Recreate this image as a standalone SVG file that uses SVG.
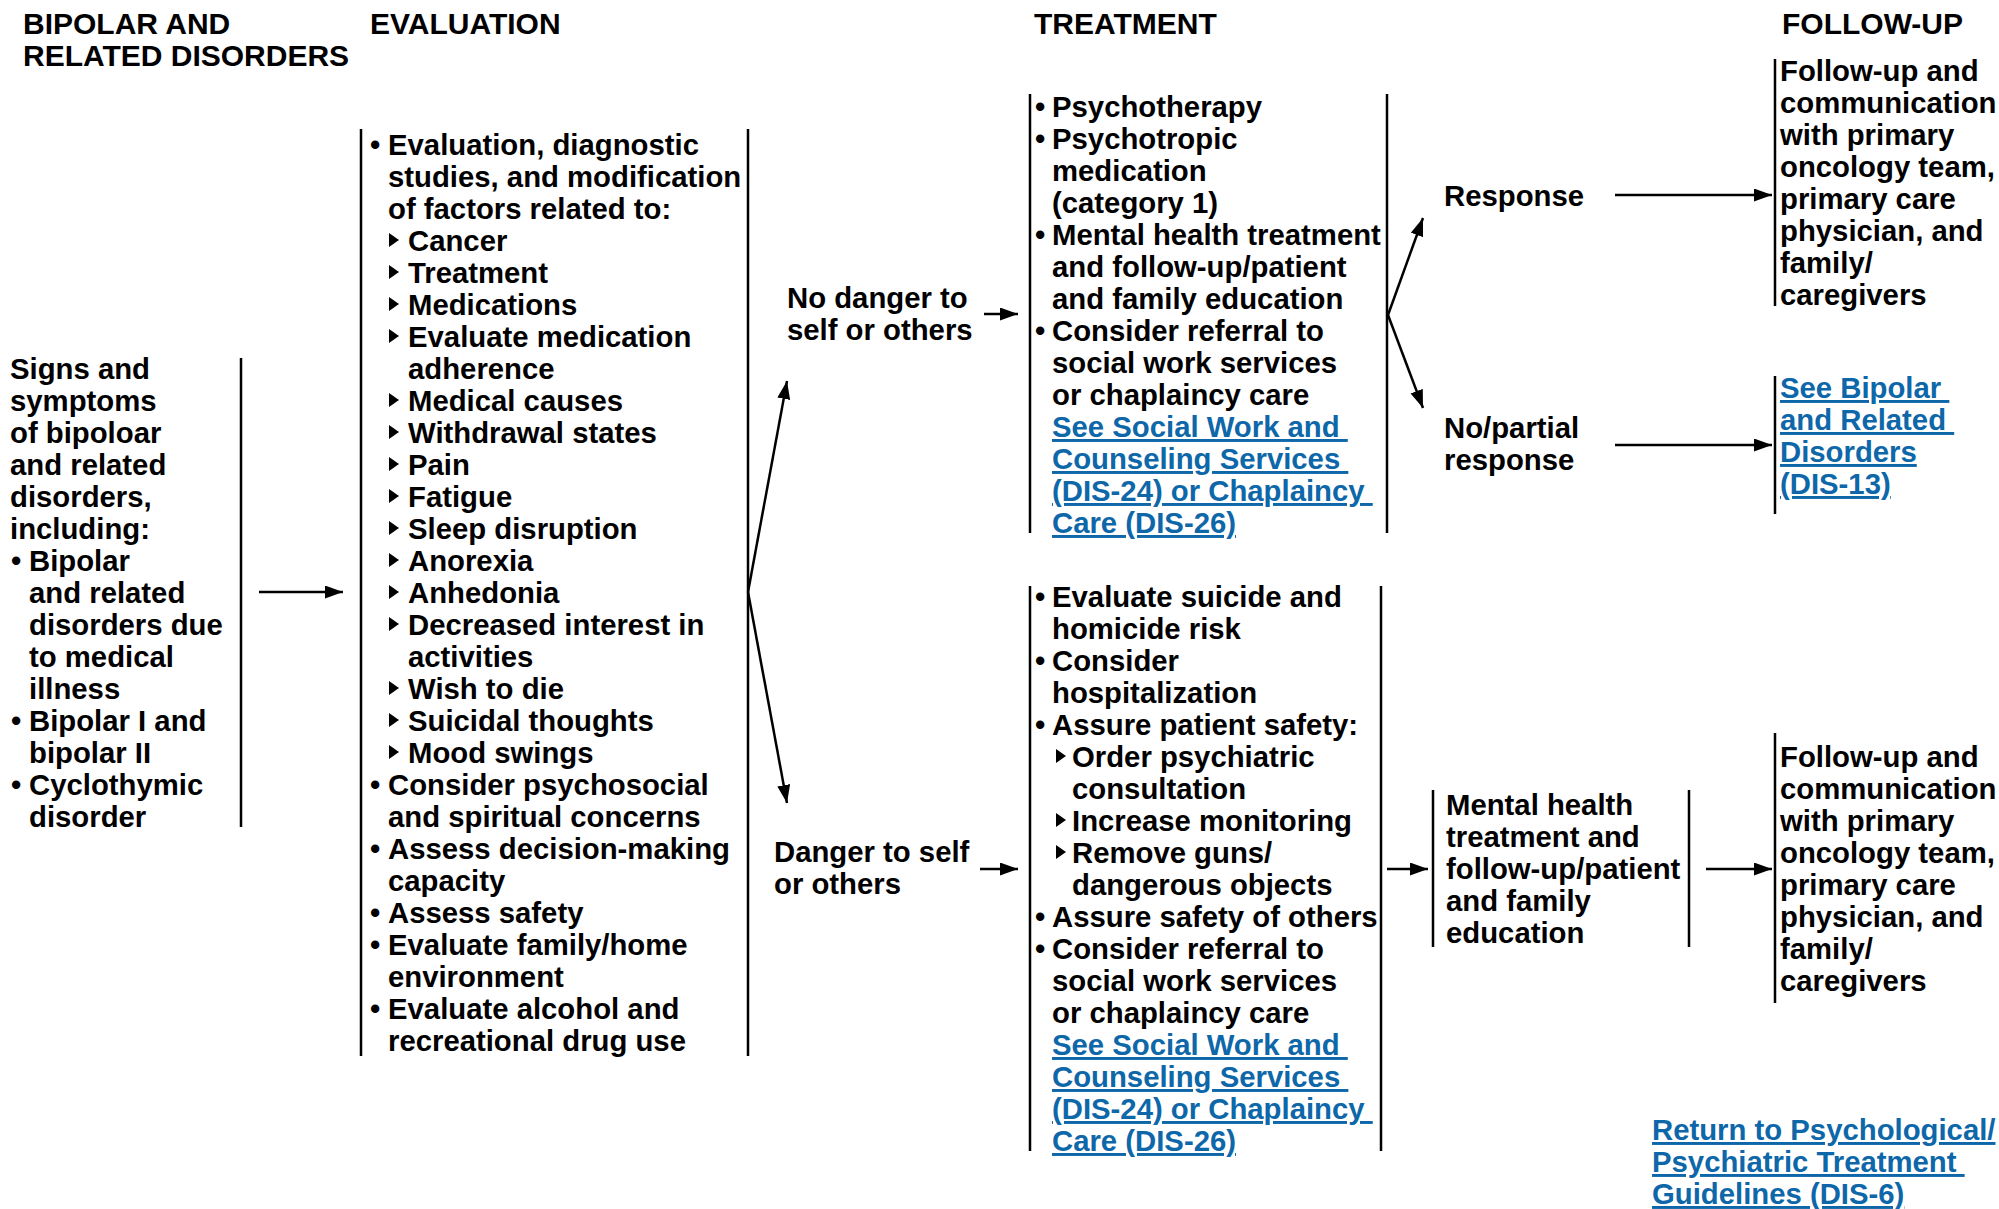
<svg xmlns="http://www.w3.org/2000/svg" width="1999" height="1209" viewBox="0 0 1999 1209">
<style>
text{font-family:"Liberation Sans",Arial,Helvetica,sans-serif;font-weight:bold;font-size:29.3px;fill:#000}
.h{font-size:30px}
.lk{fill:#0e67a8;text-decoration:underline}
.bar{stroke:#000;stroke-width:2.5;fill:none}
.con{stroke:#000;stroke-width:2.5;fill:none;marker-end:url(#ah)}
</style>
<defs>
<marker id="ah" markerUnits="userSpaceOnUse" markerWidth="19" markerHeight="14" refX="18" refY="6.5" orient="auto">
<path d="M0,0 L18,6.5 L0,13 z" fill="#000"/>
</marker>
<path id="tb" d="M0,0 L10,7 L0,14 z" fill="#000"/>
</defs>
<rect width="1999" height="1209" fill="#fff"/>

<g id="headings">
<text class="h" x="23" y="34">BIPOLAR AND</text>
<text class="h" x="23" y="66">RELATED DISORDERS</text>
<text class="h" x="370" y="34">EVALUATION</text>
<text class="h" x="1034" y="34">TREATMENT</text>
<text class="h" x="1782" y="34">FOLLOW-UP</text>
</g>

<g id="signs">
<line class="bar" x1="241" y1="358" x2="241" y2="827"/>
<text x="10" y="379">Signs and</text>
<text x="10" y="411">symptoms</text>
<text x="10" y="443">of bipoloar</text>
<text x="10" y="475">and related</text>
<text x="10" y="507">disorders,</text>
<text x="10" y="539">including:</text>
<text x="11" y="571">•</text><text x="29" y="571">Bipolar</text>
<text x="29" y="603">and related</text>
<text x="29" y="635">disorders due</text>
<text x="29" y="667">to medical</text>
<text x="29" y="699">illness</text>
<text x="11" y="731">•</text><text x="29" y="731">Bipolar I and</text>
<text x="29" y="763">bipolar II</text>
<text x="11" y="795">•</text><text x="29" y="795">Cyclothymic</text>
<text x="29" y="827">disorder</text>
</g>

<g id="evaluation">
<line class="bar" x1="361" y1="129" x2="361" y2="1056"/>
<line class="bar" x1="748" y1="129" x2="748" y2="1056"/>
<text x="370" y="155">•</text><text x="388" y="155">Evaluation, diagnostic</text>
<text x="388" y="187">studies, and modification</text>
<text x="388" y="219">of factors related to:</text>
<use href="#tb" x="389" y="233"/><text x="408" y="251">Cancer</text>
<use href="#tb" x="389" y="265"/><text x="408" y="283">Treatment</text>
<use href="#tb" x="389" y="297"/><text x="408" y="315">Medications</text>
<use href="#tb" x="389" y="329"/><text x="408" y="347">Evaluate medication</text>
<text x="408" y="379">adherence</text>
<use href="#tb" x="389" y="393"/><text x="408" y="411">Medical causes</text>
<use href="#tb" x="389" y="425"/><text x="408" y="443">Withdrawal states</text>
<use href="#tb" x="389" y="457"/><text x="408" y="475">Pain</text>
<use href="#tb" x="389" y="489"/><text x="408" y="507">Fatigue</text>
<use href="#tb" x="389" y="521"/><text x="408" y="539">Sleep disruption</text>
<use href="#tb" x="389" y="553"/><text x="408" y="571">Anorexia</text>
<use href="#tb" x="389" y="585"/><text x="408" y="603">Anhedonia</text>
<use href="#tb" x="389" y="617"/><text x="408" y="635">Decreased interest in</text>
<text x="408" y="667">activities</text>
<use href="#tb" x="389" y="681"/><text x="408" y="699">Wish to die</text>
<use href="#tb" x="389" y="713"/><text x="408" y="731">Suicidal thoughts</text>
<use href="#tb" x="389" y="745"/><text x="408" y="763">Mood swings</text>
<text x="370" y="795">•</text><text x="388" y="795">Consider psychosocial</text>
<text x="388" y="827">and spiritual concerns</text>
<text x="370" y="859">•</text><text x="388" y="859">Assess decision-making</text>
<text x="388" y="891">capacity</text>
<text x="370" y="923">•</text><text x="388" y="923">Assess safety</text>
<text x="370" y="955">•</text><text x="388" y="955">Evaluate family/home</text>
<text x="388" y="987">environment</text>
<text x="370" y="1019">•</text><text x="388" y="1019">Evaluate alcohol and</text>
<text x="388" y="1051">recreational drug use</text>
</g>

<g id="no-danger">
<text x="787" y="308">No danger to</text>
<text x="787" y="340">self or others</text>
</g>

<g id="danger">
<text x="774" y="862">Danger to self</text>
<text x="774" y="894">or others</text>
</g>

<g id="treatment-no-danger">
<line class="bar" x1="1030" y1="94" x2="1030" y2="533"/>
<line class="bar" x1="1387" y1="94" x2="1387" y2="533"/>
<text x="1035" y="117">•</text><text x="1052" y="117">Psychotherapy</text>
<text x="1035" y="149">•</text><text x="1052" y="149">Psychotropic</text>
<text x="1052" y="181">medication</text>
<text x="1052" y="213">(category 1)</text>
<text x="1035" y="245">•</text><text x="1052" y="245">Mental health treatment</text>
<text x="1052" y="277">and follow-up/patient</text>
<text x="1052" y="309">and family education</text>
<text x="1035" y="341">•</text><text x="1052" y="341">Consider referral to</text>
<text x="1052" y="373">social work services</text>
<text x="1052" y="405">or chaplaincy care</text>
<text class="lk" x="1052" y="437">See Social Work and&#160;</text>
<text class="lk" x="1052" y="469">Counseling Services&#160;</text>
<text class="lk" x="1052" y="501">(DIS-24) or Chaplaincy&#160;</text>
<text class="lk" x="1052" y="533">Care (DIS-26)</text>
</g>

<g id="treatment-danger">
<line class="bar" x1="1030" y1="586" x2="1030" y2="1151"/>
<line class="bar" x1="1381" y1="586" x2="1381" y2="1151"/>
<text x="1035" y="607">•</text><text x="1052" y="607">Evaluate suicide and</text>
<text x="1052" y="639">homicide risk</text>
<text x="1035" y="671">•</text><text x="1052" y="671">Consider</text>
<text x="1052" y="703">hospitalization</text>
<text x="1035" y="735">•</text><text x="1052" y="735">Assure patient safety:</text>
<use href="#tb" x="1056" y="749"/><text x="1072" y="767">Order psychiatric</text>
<text x="1072" y="799">consultation</text>
<use href="#tb" x="1056" y="813"/><text x="1072" y="831">Increase monitoring</text>
<use href="#tb" x="1056" y="845"/><text x="1072" y="863">Remove guns/</text>
<text x="1072" y="895">dangerous objects</text>
<text x="1035" y="927">•</text><text x="1052" y="927">Assure safety of others</text>
<text x="1035" y="959">•</text><text x="1052" y="959">Consider referral to</text>
<text x="1052" y="991">social work services</text>
<text x="1052" y="1023">or chaplaincy care</text>
<text class="lk" x="1052" y="1055">See Social Work and&#160;</text>
<text class="lk" x="1052" y="1087">Counseling Services&#160;</text>
<text class="lk" x="1052" y="1119">(DIS-24) or Chaplaincy&#160;</text>
<text class="lk" x="1052" y="1151">Care (DIS-26)</text>
</g>

<g id="response">
<text x="1444" y="206">Response</text>
</g>

<g id="no-response">
<text x="1444" y="438">No/partial</text>
<text x="1444" y="470">response</text>
</g>

<g id="followup-1">
<line class="bar" x1="1775" y1="59" x2="1775" y2="306"/>
<text x="1780" y="81">Follow-up and</text>
<text x="1780" y="113">communication</text>
<text x="1780" y="145">with primary</text>
<text x="1780" y="177">oncology team,</text>
<text x="1780" y="209">primary care</text>
<text x="1780" y="241">physician, and</text>
<text x="1780" y="273">family/</text>
<text x="1780" y="305">caregivers</text>
</g>

<g id="see-bipolar">
<line class="bar" x1="1775" y1="376" x2="1775" y2="514"/>
<text class="lk" x="1780" y="398">See Bipolar&#160;</text>
<text class="lk" x="1780" y="430">and Related&#160;</text>
<text class="lk" x="1780" y="462">Disorders</text>
<text class="lk" x="1780" y="494">(DIS-13)</text>
</g>

<g id="mental-health">
<line class="bar" x1="1433" y1="790" x2="1433" y2="947"/>
<line class="bar" x1="1689" y1="790" x2="1689" y2="947"/>
<text x="1446" y="815">Mental health</text>
<text x="1446" y="847">treatment and</text>
<text x="1446" y="879">follow-up/patient</text>
<text x="1446" y="911">and family</text>
<text x="1446" y="943">education</text>
</g>

<g id="followup-2">
<line class="bar" x1="1775" y1="733" x2="1775" y2="1003"/>
<text x="1780" y="767">Follow-up and</text>
<text x="1780" y="799">communication</text>
<text x="1780" y="831">with primary</text>
<text x="1780" y="863">oncology team,</text>
<text x="1780" y="895">primary care</text>
<text x="1780" y="927">physician, and</text>
<text x="1780" y="959">family/</text>
<text x="1780" y="991">caregivers</text>
</g>

<g id="return-link">
<text class="lk" x="1652" y="1140">Return to Psychological/</text>
<text class="lk" x="1652" y="1172">Psychiatric Treatment&#160;</text>
<text class="lk" x="1652" y="1204">Guidelines (DIS-6)</text>
</g>

<g id="connectors">
<line class="con" x1="259" y1="592" x2="343" y2="592"/>
<line class="con" x1="748" y1="592" x2="787" y2="381"/>
<line class="con" x1="748" y1="592" x2="787" y2="803"/>
<line class="con" x1="984" y1="314" x2="1018" y2="314"/>
<line class="con" x1="980" y1="869" x2="1018" y2="869"/>
<line class="con" x1="1388" y1="315" x2="1423" y2="218"/>
<line class="con" x1="1388" y1="315" x2="1423" y2="408"/>
<line class="con" x1="1615" y1="195" x2="1772" y2="195"/>
<line class="con" x1="1615" y1="445" x2="1772" y2="445"/>
<line class="con" x1="1387" y1="869" x2="1428" y2="869"/>
<line class="con" x1="1706" y1="869" x2="1772" y2="869"/>
</g>
</svg>
